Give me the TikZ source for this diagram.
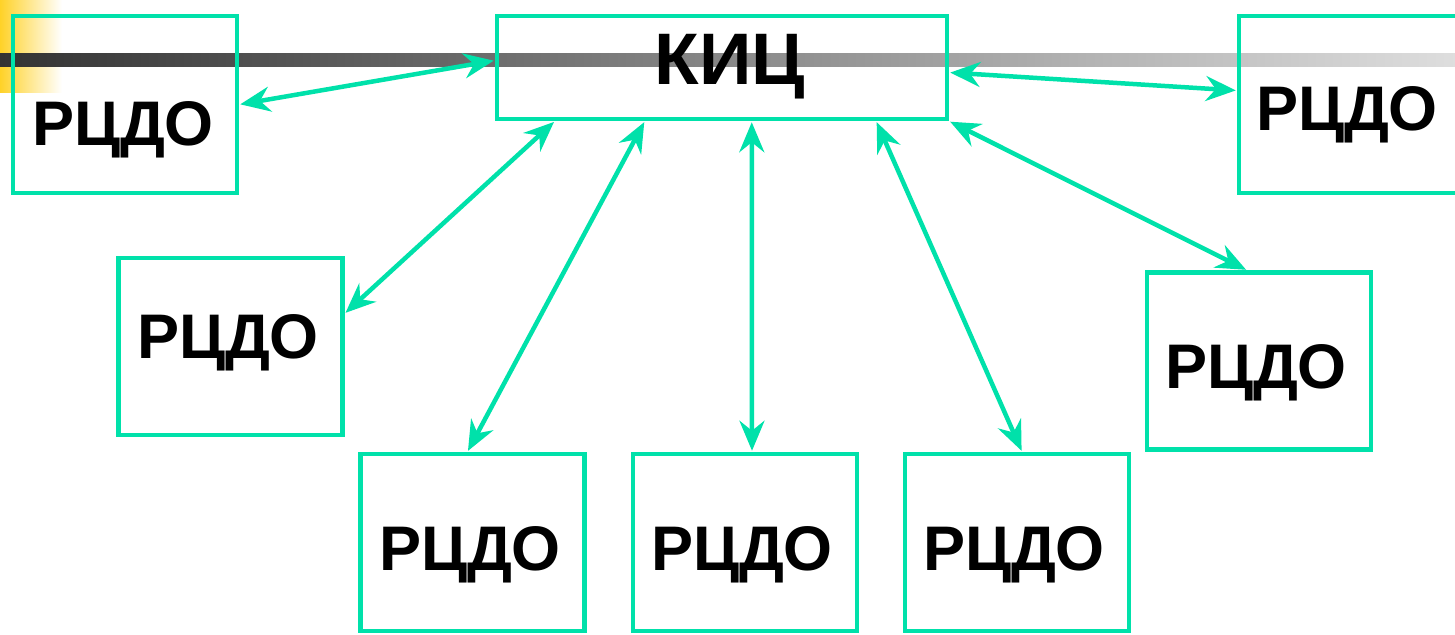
\documentclass[tikz,border=0pt]{standalone}
\usepackage{fontspec}
\setmainfont{Liberation Sans}
\usetikzlibrary{arrows.meta}
\definecolor{boxgreen}{RGB}{0,225,170}
\definecolor{topyellow}{RGB}{255,210,40}

\begin{document}
\begin{tikzpicture}[x=1pt,y=-1pt,>={Stealth[length=30pt,width=25pt,inset=10pt]}]
	\useasboundingbox (0,0) rectangle (1455,634);
	% background decoration
	\fill[left color=topyellow,right color=white] (0,0) rectangle (62,92);
	\fill[left color=black!80,right color=black!13] (0,54) rectangle (1455,66);

	\tikzset{rbox/.style={draw=boxgreen,line width=4.5pt,inner sep=0pt,minimum width=224pt,minimum height=177pt}}
	\tikzset{rtxt/.style={anchor=base,inner sep=0pt,font=\fontsize{63}{70}\selectfont\bfseries}}

	\node[rbox]                                   (1) at (125,104.5)  {};
	\node[rbox,minimum width=450pt,minimum height=103pt] (0) at (722,67.5) {};
	\node[rbox]                                   (2) at (1351,104.5) {};
	\node[rbox]                                   (3) at (230.5,346.5) {};
	\node[rbox]                                   (4) at (1259,361)   {};
	\node[rbox]                                   (5) at (472.5,542.5) {};
	\node[rbox]                                   (6) at (745,542.5)  {};
	\node[rbox]                                   (7) at (1017,542.5) {};

	\node[rtxt,font=\fontsize{73}{80}\selectfont\bfseries] (t0) at (730,84) {КИЦ};
	\node[rtxt] (t1) at (123,145) {РЦДО};
	\node[rtxt] (t2) at (1347,130) {РЦДО};
	\node[rtxt] (t3) at (228,358) {РЦДО};
	\node[rtxt] (t4) at (1256,388) {РЦДО};
	\node[rtxt] (t5) at (470,570) {РЦДО};
	\node[rtxt] (t6) at (742,570) {РЦДО};
	\node[rtxt] (t7) at (1014,570) {РЦДО};

	\tikzset{link/.style={<->,draw=boxgreen,line width=4.5pt,shorten <=1pt,shorten >=1pt}}
	\path (1.east)                       edge [link] ([yshift=7pt]0.west)
		  ([yshift=-5pt]0.east)          edge [link] ([yshift=14pt]2.west)
		  ([xshift=60pt]0.south west)    edge [link] ([yshift=33pt]3.east)
		  ([xshift=150pt]0.south west)   edge [link] ([xshift=-5pt]5.north)
		  ([xshift=257pt]0.south west)   edge [link] ([xshift=7pt]6.north)
		  ([xshift=-73pt]0.south east)   edge [link] ([xshift=5pt]7.north)
		  (0.south east)                 edge [link] ([xshift=-12pt]4.north);
\end{tikzpicture}
\end{document}
